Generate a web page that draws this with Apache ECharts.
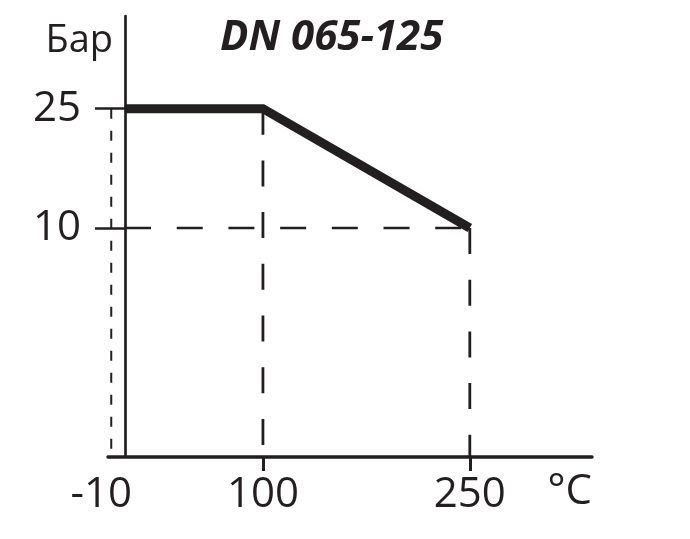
<!DOCTYPE html>
<html>
<head>
<meta charset="utf-8">
<script src="https://cdn.jsdelivr.net/npm/echarts@6/dist/echarts.min.js"></script>
<style>
html,body{margin:0;padding:0;background:#fff;}
#chart{width:690px;height:539px;}
</style>
</head>
<body>
<div id="chart"></div>
<script>
// ---- data ----
const titleText = 'DN 065-125';
const yName = 'Бар';
const xName = '°C';
const temps = [0, 100, 250];          // °C
const pressure = [25, 25, 10];        // Бар
const xTickLabels = [-10, 100, 250];
const yTickLabels = [10, 25];
const minTemp = -10;                  // lower limit of the range

// axis extents (schematic scale)
const X_MIN = -12.35, X_MAX = 338.6;
const Y_MIN = -18.8, Y_MAX = 36.66;

const INK = '#231f20';
const FONT = '"Open Sans", "Liberation Sans", sans-serif';

const chart = echarts.init(document.getElementById('chart'), null, {renderer: 'canvas'});

function lineSeries(data, width, dash, z) {
  return {
    type: 'line', data: data, symbol: 'none', silent: true, clip: false,
    animation: false, z: z,
    lineStyle: {color: INK, width: width, type: dash, cap: 'butt', join: 'miter'}
  };
}

const option = {
  backgroundColor: '#fff',
  animation: false,
  title: {
    text: titleText, left: 215, top: 12,
    textStyle: {fontFamily: FONT, fontSize: 42, fontWeight: 'bold', fontStyle: 'italic', color: INK}
  },
  grid: {left: 108, right: 98, top: 16, bottom: 82, outerBoundsMode: 'none'},
  xAxis: {
    type: 'value', min: X_MIN, max: X_MAX,
    name: xName, nameLocation: 'end', nameGap: 0,
    nameTextStyle: {fontFamily: FONT, fontSize: 42, color: INK, align: 'right', verticalAlign: 'top', padding: [14, 0, 0, 0]},
    axisLine: {show: true, onZero: false, lineStyle: {color: INK, width: 3.5}},
    axisTick: {show: true, customValues: [100, 250], length: 14, lineStyle: {color: INK, width: 3}},
    axisLabel: {
      customValues: xTickLabels, margin: 17,
      fontFamily: FONT, fontSize: 42, color: INK,
      formatter: function (v) { return v < 0 ? '{neg|' + v + '}' : String(v); },
      rich: {neg: {fontFamily: FONT, fontSize: 42, color: INK, padding: [0, 20, 0, 0]}}
    },
    splitLine: {show: false}
  },
  yAxis: {
    type: 'value', min: Y_MIN, max: Y_MAX,
    name: yName, nameLocation: 'end', nameGap: -6,
    nameTextStyle: {fontFamily: FONT, fontSize: 38, color: INK, align: 'right', verticalAlign: 'top', padding: [0, 12, 0, 0]},
    axisLine: {show: true, onZero: true, lineStyle: {color: INK, width: 2.7}},
    axisTick: {show: true, customValues: yTickLabels, length: 30, lineStyle: {color: INK, width: 2.5}},
    axisLabel: {customValues: yTickLabels, margin: 27, fontFamily: FONT, fontSize: 42, color: INK},
    splitLine: {show: false}
  },
  series: [
    // guide: lower temperature limit
    lineSeries([[minTemp, pressure[0]], [minTemp, Y_MIN]], 2, [10, 12], 2),
    // guide: knee point
    lineSeries([[temps[1], pressure[1]], [temps[1], Y_MIN]], 2.8, [26, 25.7], 2),
    // guide: end point vertical
    lineSeries([[temps[2], pressure[2]], [temps[2], Y_MIN]], 2.8, [26, 25.7], 2),
    // guide: end point horizontal
    lineSeries([[temps[0], pressure[2]], [temps[2], pressure[2]]], 2.3, [26, 25.7], 2),
    // main curve
    lineSeries(temps.map((t, i) => [t, pressure[i]]), 9, 'solid', 5)
  ]
};
chart.setOption(option);
</script>
</body>
</html>
